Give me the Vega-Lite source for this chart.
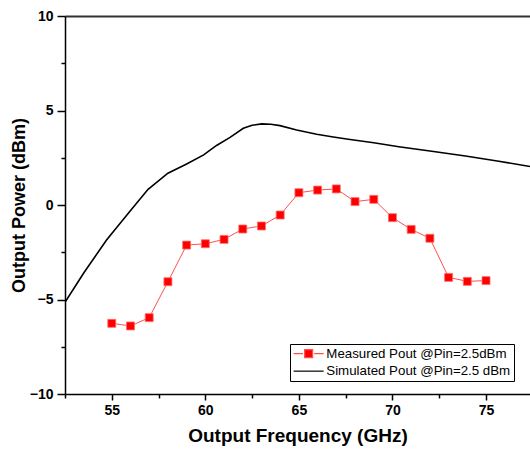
{
  "$schema": "https://vega.github.io/schema/vega-lite/v6.json",
  "width": 465,
  "height": 378,
  "autosize": {"type": "none"},
  "padding": {"left": 65, "top": 16, "right": 0, "bottom": 56},
  "background": "white",
  "config": {
    "view": {"stroke": null},
    "font": "Liberation Sans",
    "axis": {"grid": false, "domainColor": "black", "domainWidth": 1.5, "tickColor": "black", "tickWidth": 1.5, "labelFont": "Liberation Sans", "labelFontWeight": "bold", "labelFontSize": 14, "labelColor": "black", "titleFont": "Liberation Sans", "titleFontWeight": "bold", "titleColor": "black"}
  },
  "datasets": {
    "measured": [
      {"series": "Measured Pout @Pin=2.5dBm", "freq": 55, "power": -6.26},
      {"series": "Measured Pout @Pin=2.5dBm", "freq": 56, "power": -6.40},
      {"series": "Measured Pout @Pin=2.5dBm", "freq": 57, "power": -5.96},
      {"series": "Measured Pout @Pin=2.5dBm", "freq": 58, "power": -4.06},
      {"series": "Measured Pout @Pin=2.5dBm", "freq": 59, "power": -2.12},
      {"series": "Measured Pout @Pin=2.5dBm", "freq": 60, "power": -2.05},
      {"series": "Measured Pout @Pin=2.5dBm", "freq": 61, "power": -1.82},
      {"series": "Measured Pout @Pin=2.5dBm", "freq": 62, "power": -1.27},
      {"series": "Measured Pout @Pin=2.5dBm", "freq": 63, "power": -1.11},
      {"series": "Measured Pout @Pin=2.5dBm", "freq": 64, "power": -0.53},
      {"series": "Measured Pout @Pin=2.5dBm", "freq": 65, "power": 0.65},
      {"series": "Measured Pout @Pin=2.5dBm", "freq": 66, "power": 0.79},
      {"series": "Measured Pout @Pin=2.5dBm", "freq": 67, "power": 0.85},
      {"series": "Measured Pout @Pin=2.5dBm", "freq": 68, "power": 0.18},
      {"series": "Measured Pout @Pin=2.5dBm", "freq": 69, "power": 0.30},
      {"series": "Measured Pout @Pin=2.5dBm", "freq": 70, "power": -0.67},
      {"series": "Measured Pout @Pin=2.5dBm", "freq": 71, "power": -1.29},
      {"series": "Measured Pout @Pin=2.5dBm", "freq": 72, "power": -1.76},
      {"series": "Measured Pout @Pin=2.5dBm", "freq": 73, "power": -3.83},
      {"series": "Measured Pout @Pin=2.5dBm", "freq": 74, "power": -4.04},
      {"series": "Measured Pout @Pin=2.5dBm", "freq": 75, "power": -4.00}
    ],
    "simulated": [
      {"series": "Simulated Pout @Pin=2.5 dBm", "freq": 52.5, "power": -5.15},
      {"series": "Simulated Pout @Pin=2.5 dBm", "freq": 53.5, "power": -3.60},
      {"series": "Simulated Pout @Pin=2.5 dBm", "freq": 54.72, "power": -1.85},
      {"series": "Simulated Pout @Pin=2.5 dBm", "freq": 55.96, "power": -0.35},
      {"series": "Simulated Pout @Pin=2.5 dBm", "freq": 56.94, "power": 0.83},
      {"series": "Simulated Pout @Pin=2.5 dBm", "freq": 58.0, "power": 1.68},
      {"series": "Simulated Pout @Pin=2.5 dBm", "freq": 59.0, "power": 2.17},
      {"series": "Simulated Pout @Pin=2.5 dBm", "freq": 59.91, "power": 2.65},
      {"series": "Simulated Pout @Pin=2.5 dBm", "freq": 60.6, "power": 3.15},
      {"series": "Simulated Pout @Pin=2.5 dBm", "freq": 61.32, "power": 3.58},
      {"series": "Simulated Pout @Pin=2.5 dBm", "freq": 62.03, "power": 4.06},
      {"series": "Simulated Pout @Pin=2.5 dBm", "freq": 62.5, "power": 4.22},
      {"series": "Simulated Pout @Pin=2.5 dBm", "freq": 63.01, "power": 4.29},
      {"series": "Simulated Pout @Pin=2.5 dBm", "freq": 63.5, "power": 4.27},
      {"series": "Simulated Pout @Pin=2.5 dBm", "freq": 63.99, "power": 4.20},
      {"series": "Simulated Pout @Pin=2.5 dBm", "freq": 64.88, "power": 3.97},
      {"series": "Simulated Pout @Pin=2.5 dBm", "freq": 65.95, "power": 3.74},
      {"series": "Simulated Pout @Pin=2.5 dBm", "freq": 66.84, "power": 3.60},
      {"series": "Simulated Pout @Pin=2.5 dBm", "freq": 67.64, "power": 3.48},
      {"series": "Simulated Pout @Pin=2.5 dBm", "freq": 69.0, "power": 3.29},
      {"series": "Simulated Pout @Pin=2.5 dBm", "freq": 70.34, "power": 3.08},
      {"series": "Simulated Pout @Pin=2.5 dBm", "freq": 72.1, "power": 2.84},
      {"series": "Simulated Pout @Pin=2.5 dBm", "freq": 73.9, "power": 2.59},
      {"series": "Simulated Pout @Pin=2.5 dBm", "freq": 75.6, "power": 2.33},
      {"series": "Simulated Pout @Pin=2.5 dBm", "freq": 77.35, "power": 2.04}
    ]
  },
  "layer": [
    {
      "data": {"name": "simulated"},
      "mark": {"type": "line", "strokeWidth": 1.6, "clip": true},
      "encoding": {
        "x": {"field": "freq", "type": "quantitative", "scale": {"domain": [52.5, 77.35], "nice": false, "zero": false},
          "axis": {"orient": "bottom", "values": [55, 60, 65, 70, 75], "tickSize": 6, "labelPadding": 3, "title": "Output Frequency (GHz)", "titleFontSize": 19, "titlePadding": 9}},
        "y": {"field": "power", "type": "quantitative", "scale": {"domain": [-10, 10], "nice": false},
          "axis": {"orient": "left", "values": [-10, -5, 0, 5, 10], "tickSize": 8, "labelPadding": 4, "title": "Output Power (dBm)", "titleFontSize": 18, "titlePadding": 1}},
        "color": {"field": "series", "type": "nominal",
          "scale": {"domain": ["Measured Pout @Pin=2.5dBm", "Simulated Pout @Pin=2.5 dBm"], "range": ["#ff5050", "black"]},
          "legend": {
            "orient": "none", "legendX": 225, "legendY": 328, "title": null,
            "strokeColor": "black", "fillColor": "white", "padding": 3,
            "labelFont": "Liberation Sans", "labelFontSize": 13.3, "labelColor": "black", "labelLimit": 0,
            "symbolSize": 100, "symbolStrokeWidth": 1.2, "symbolOffset": 9, "labelOffset": 11, "rowPadding": 2.5,
            "encode": {"symbols": {"update": {
              "shape": {"signal": "indexof(datum.label, 'Measured') >= 0 ? 'M-3,0H-1.1M1.1,0H3M-0.8,-0.8H0.8V0.8H-0.8Z' : 'M-3,0H3'"},
              "fill": {"signal": "indexof(datum.label, 'Measured') >= 0 ? '#ff0000' : 'transparent'"}
            }}}
          }}
      }
    },
    {
      "data": {"name": "measured"},
      "mark": {"type": "line", "strokeWidth": 1, "clip": true},
      "encoding": {
        "x": {"field": "freq", "type": "quantitative",
          "axis": {"orient": "bottom", "values": [52.5, 57.5, 62.5, 67.5, 72.5, 77.5], "tickSize": 4, "labels": false, "domain": false, "title": null}},
        "y": {"field": "power", "type": "quantitative",
          "axis": {"orient": "left", "values": [-7.5, -2.5, 2.5, 7.5], "tickSize": 4, "labels": false, "domain": false, "title": null}},
        "color": {"field": "series", "type": "nominal"}
      }
    },
    {
      "data": {"name": "measured"},
      "mark": {"type": "point", "shape": "square", "filled": true, "size": 64, "color": "#ff0000", "opacity": 1, "stroke": "#ff7070", "strokeWidth": 0.8},
      "encoding": {
        "x": {"field": "freq", "type": "quantitative",
          "axis": {"orient": "top", "ticks": false, "labels": false, "domainColor": "#333333", "domainWidth": 2, "title": null}},
        "y": {"field": "power", "type": "quantitative", "axis": null}
      }
    }
  ],
  "resolve": {"axis": {"x": "independent", "y": "independent"}}
}
